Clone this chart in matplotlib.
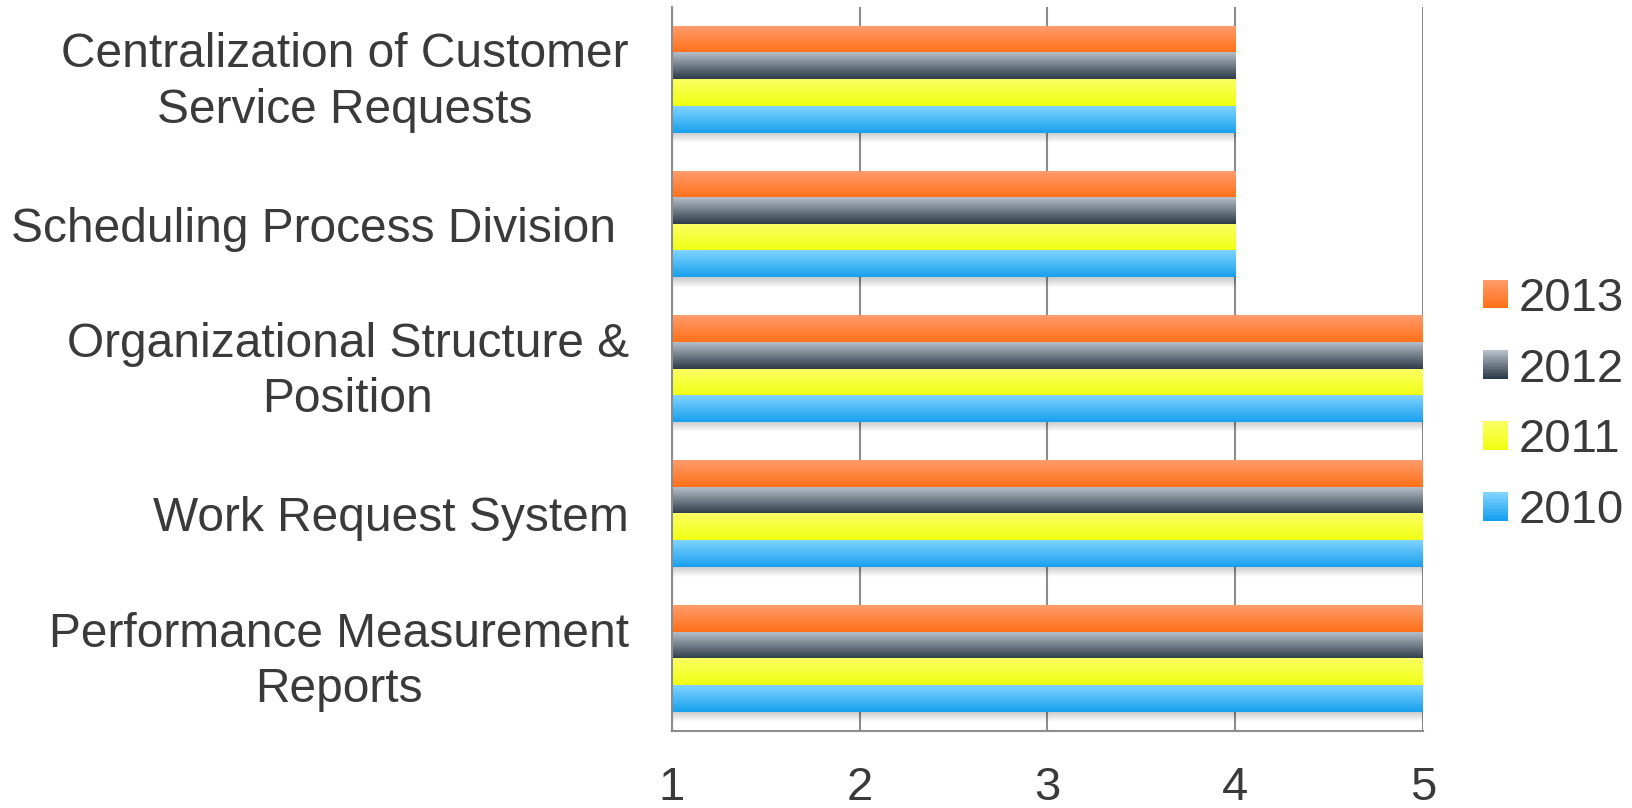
import matplotlib.pyplot as plt
import numpy as np
from matplotlib import font_manager
from matplotlib.colors import LinearSegmentedColormap, to_rgb
from matplotlib.patches import Patch, Rectangle
from matplotlib.legend_handler import HandlerBase
from matplotlib.transforms import ScaledTranslation

categories = ['Centralization of Customer\nService Requests',
              'Scheduling Process Division ',
              'Organizational Structure &\nPosition',
              'Work Request System',
              'Performance Measurement\nReports']
years = ['2013', '2012', '2011', '2010']
v2013 = [4, 4, 5, 5, 5]
v2012 = [4, 4, 5, 5, 5]
v2011 = [4, 4, 5, 5, 5]
v2010 = [4, 4, 5, 5, 5]
ticks = [1, 2, 3, 4, 5]

# top colour, bottom colour of each bar gradient
grads = {'2013': ('#ff9c6c', '#ff7018'),
         '2012': ('#b6bec8', '#2c3c48'),
         '2011': ('#fcff62', '#f0ff12'),
         '2010': ('#80d4ff', '#18a0ee')}

names = [f.name for f in font_manager.fontManager.ttflist]
font = 'Liberation Sans' if 'Liberation Sans' in names else 'DejaVu Sans'
narrow = 'Liberation Sans Narrow' if 'Liberation Sans Narrow' in names else font
txt = '#3a3a3a'


class GradHandler(HandlerBase):
    # legend key drawn as a stack of thin strips
    def create_artists(self, legend, orig, xd, yd, w, h, fontsize, trans):
        c0, c1 = [np.array(to_rgb(c)) for c in orig.grad]
        n = 20
        out = []
        for k in range(n):
            f = k / (n - 1)
            col = c0 * (1 - f) + c1 * f
            r = Rectangle((-xd, -yd + h - (k + 1) * h / n), w, h / n + 0.3,
                          facecolor=col, edgecolor='none', transform=trans)
            out.append(r)
        return out


fig = plt.figure(figsize=(16.33, 8.08), dpi=100)
ax = fig.add_axes([672/1633, 1 - 731/808, 751/1633, 724/808])

y = np.arange(len(categories))[::-1]
h = 0.184
series = [v2013, v2012, v2011, v2010]
offs = [1.5, 0.5, -0.5, -1.5]
grad = np.linspace(0, 1, 64).reshape(-1, 1)

for yr, vals, o in zip(years, series, offs):
    bars = ax.barh(y + o * h, np.array(vals) - 1, left=1, height=h,
                   color=grads[yr][1], zorder=1)
    cmap = LinearSegmentedColormap.from_list(yr, grads[yr])
    for p in bars:
        x0, y0, w, hh = p.get_x(), p.get_y(), p.get_width(), p.get_height()
        ax.imshow(grad, cmap=cmap, aspect='auto', origin='upper',
                  extent=[x0, x0 + w, y0, y0 + hh], zorder=2)

# soft shadow under each group
shadow = LinearSegmentedColormap.from_list('sh', [(0, 0, 0, 0.22), (0, 0, 0, 0)])
for i, v in enumerate(v2010):
    yb = y[i] - 2 * h
    ax.imshow(grad, cmap=shadow, aspect='auto', origin='upper',
              extent=[1, v, yb - 0.07, yb], zorder=1.5)

ax.set_xlim(1, 5)
ax.set_ylim(-0.5, 4.5)
ax.set_xticks(ticks)
ax.set_xticklabels([str(t) for t in ticks], fontsize=34, color=txt, family=narrow)
ax.set_yticks(y)
ax.set_yticklabels(categories, fontsize=34.5, color=txt, family=font,
                   multialignment='center', linespacing=1.29)
ax.tick_params(axis='both', length=0)
ax.tick_params(axis='x', pad=25)
ax.tick_params(axis='y', pad=31)
up = ScaledTranslation(0, 5/72, fig.dpi_scale_trans)
for lab in ax.get_yticklabels():
    if '\n' in lab.get_text():
        lab.set_transform(lab.get_transform() + up)

ax.set_axisbelow(True)
ax.grid(axis='x', color='#8c8c8c', linewidth=1.5)
ax.grid(axis='y', visible=False)
for s in ['top', 'right']:
    ax.spines[s].set_visible(False)
for s in ['left', 'bottom']:
    ax.spines[s].set_color('#8c8c8c')
    ax.spines[s].set_linewidth(1.5)

handles = []
for yr in years:
    p = Patch()
    p.grad = grads[yr]
    handles.append(p)
leg = fig.legend(handles, years, loc='center left',
                 bbox_to_anchor=(1483/1633, 1 - 405/808),
                 frameon=False, borderpad=0, borderaxespad=0,
                 handlelength=0.53, handleheight=0.53, handletextpad=0.22,
                 labelspacing=0.57, prop={'family': font, 'size': 34},
                 handler_map={Patch: GradHandler()})
for t in leg.get_texts():
    t.set_color(txt)

fig.savefig('out.png', dpi=100)
